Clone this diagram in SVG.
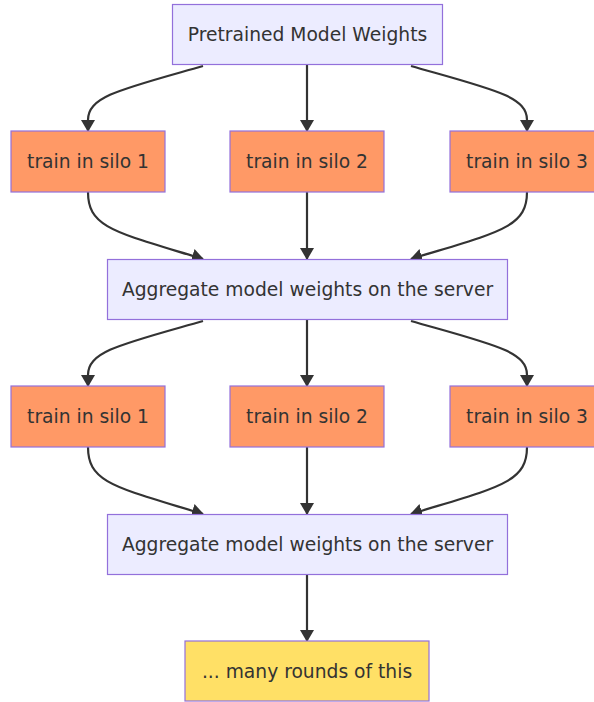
<svg xmlns="http://www.w3.org/2000/svg" width="594" height="702" viewBox="0 0 594 702">
<defs>
<marker id="arr" viewBox="0 0 12 14" refX="11" refY="7" markerUnits="userSpaceOnUse" markerWidth="12" markerHeight="14" orient="auto">
<path d="M0,0 L12,7 L0,14 z" fill="#333"/>
</marker>
<style>
.box rect{stroke:#9370DB;stroke-width:1.2}
.lav rect{fill:#ECECFF}
.org rect{fill:#FF9966}
.yel rect{fill:#FFE066}
text{font-family:"DejaVu Sans",Verdana,sans-serif;font-size:18.7px;fill:#333;text-anchor:middle;dominant-baseline:central}
.edges path{fill:none;stroke:#333;stroke-width:2.2;marker-end:url(#arr)}
</style>
</defs>
<rect width="594" height="702" fill="#fff"/>
<g class="edges" id="edges">
<path d="M203,66 C122,89 88,96 88,120 L88,131"/>
<path d="M307,65 V131"/>
<path d="M411,66 C492,89 527,96 527,120 L527,131"/>
<path d="M88,192 C88,228 115,232 203,259"/>
<path d="M307,192 V259"/>
<path d="M527,192 C527,228 499,232 411,259"/>
<path d="M203,321 C122,344 88,351 88,375 L88,386"/>
<path d="M307,320 V386"/>
<path d="M411,321 C492,344 527,351 527,375 L527,386"/>
<path d="M88,447 C88,483 115,487 203,514"/>
<path d="M307,447 V514"/>
<path d="M527,447 C527,483 499,487 411,514"/>
<path d="M307,575 V641"/>
</g>
<g id="pretrained" class="box lav"><rect x="172.5" y="4.5" width="270" height="60"/><text x="307.5" y="34.5">Pretrained Model Weights</text></g>
<g id="silo1a" class="box org"><rect x="11" y="131" width="154" height="61"/><text x="88" y="161.5">train in silo 1</text></g>
<g id="silo2a" class="box org"><rect x="230" y="131" width="154" height="61"/><text x="307" y="161.5">train in silo 2</text></g>
<g id="silo3a" class="box org"><rect x="450" y="131" width="154" height="61"/><text x="527" y="161.5">train in silo 3</text></g>
<g id="agg1" class="box lav"><rect x="107.5" y="259.5" width="400" height="60"/><text x="307.5" y="289.5">Aggregate model weights on the server</text></g>
<g id="silo1b" class="box org"><rect x="11" y="386" width="154" height="61"/><text x="88" y="416.5">train in silo 1</text></g>
<g id="silo2b" class="box org"><rect x="230" y="386" width="154" height="61"/><text x="307" y="416.5">train in silo 2</text></g>
<g id="silo3b" class="box org"><rect x="450" y="386" width="154" height="61"/><text x="527" y="416.5">train in silo 3</text></g>
<g id="agg2" class="box lav"><rect x="107.5" y="514.5" width="400" height="60"/><text x="307.5" y="544.5">Aggregate model weights on the server</text></g>
<g id="rounds" class="box yel"><rect x="185" y="641" width="244" height="60"/><text x="307" y="671">... many rounds of this</text></g>
</svg>
